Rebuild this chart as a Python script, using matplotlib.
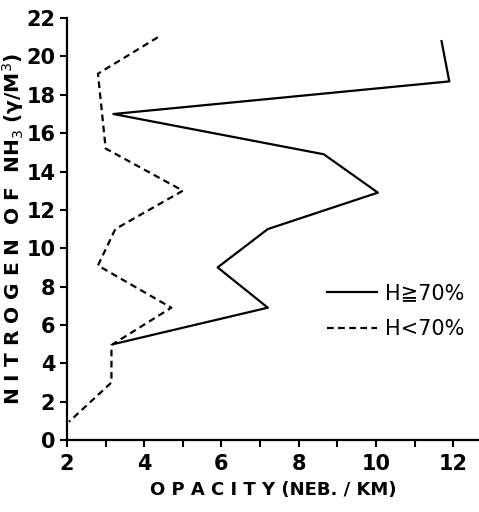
import matplotlib
matplotlib.use('Agg')
import matplotlib.pyplot as plt
from matplotlib.ticker import MultipleLocator

# H >= 70% profile (opacity, nitrogen)
high_opacity = [11.7, 11.9, 3.2, 8.65, 10.05, 7.2, 5.9, 7.2, 3.2]
high_nitrogen = [20.8, 18.7, 17.0, 14.9, 12.9, 11.0, 9.0, 6.9, 5.0]

# H < 70% profile
low_opacity = [4.35, 2.8, 3.0, 5.0, 3.25, 2.8, 4.7, 3.15, 3.15, 2.05]
low_nitrogen = [21.0, 19.1, 15.2, 13.0, 11.0, 9.1, 6.9, 4.95, 3.0, 0.95]

x_ticks = [2, 4, 6, 8, 10, 12]
y_ticks = [0, 2, 4, 6, 8, 10, 12, 14, 16, 18, 20, 22]

fig = plt.figure(figsize=(4.79, 5.12), dpi=100)
ax = fig.add_axes([0.14, 0.1406, 0.86, 0.824])

ax.plot(high_opacity, high_nitrogen, color='black', lw=1.6, label='H\u226770%')
ax.plot(low_opacity, low_nitrogen, color='black', lw=1.6, dashes=(3, 2), label='H<70%')

ax.set_xlim(2, 12.67)
ax.set_ylim(0, 22)
ax.set_xticks(x_ticks)
ax.xaxis.set_minor_locator(MultipleLocator(1))
ax.set_yticks(y_ticks)

for side in ['top', 'right']:
    ax.spines[side].set_visible(False)
for side in ['left', 'bottom']:
    ax.spines[side].set_linewidth(1.6)

ax.tick_params(axis='both', which='major', labelsize=15, width=1.5, length=5)
ax.tick_params(axis='x', which='minor', width=1.5, length=5)
ax.tick_params(axis='x', which='major', pad=5)
for lab in ax.get_xticklabels() + ax.get_yticklabels():
    lab.set_fontweight('bold')

ax.set_xlabel('O P A C I T Y (NEB. / KM)', fontsize=13, fontweight='bold', labelpad=5)
ax.set_ylabel('N I T R O G E N  O F  NH$_3$ (\u03b3/M$^3$)', fontsize=14.5, fontweight='bold', labelpad=0)

ax.legend(loc='center left', bbox_to_anchor=(0.585, 0.305), frameon=False,
          fontsize=15, handlelength=2.4, labelspacing=0.75, handletextpad=0.4)

fig.savefig('out.png', dpi=100)
